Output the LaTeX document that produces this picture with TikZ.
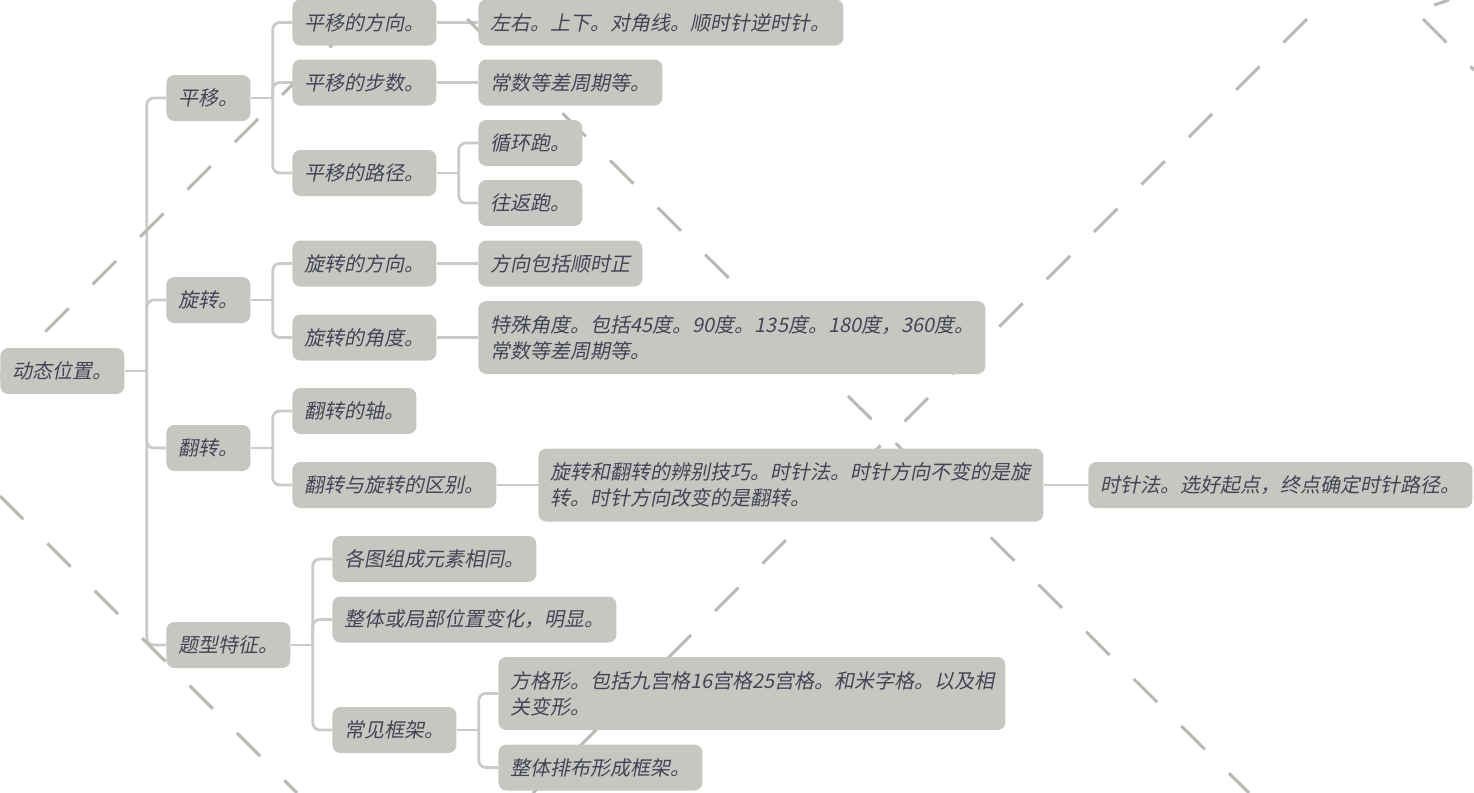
\documentclass[tikz,border=0pt]{standalone}
\usepackage{fontspec}
\usepackage{tikz}
\newfontfamily\cjk{Noto Sans CJK SC}[FakeSlant=0.2]
\definecolor{boxgray}{RGB}{197,199,192}
\definecolor{linkgray}{RGB}{202,202,200}
\definecolor{wmgray}{RGB}{183,186,178}
\definecolor{inkblue}{RGB}{67,69,86}
\pgfdeclarelayer{links}
\pgfdeclarelayer{marks}
\pgfsetlayers{links,marks,main}

\begin{document}
\begin{tikzpicture}[x=0.5pt, y=-0.5pt,
    topic/.style={fill=boxgray, rounded corners=4pt, anchor=west, inner xsep=6pt, inner ysep=2pt,
        minimum height=23pt, text=inkblue, font=\cjk\fontsize{10}{13}\selectfont},
    wide/.style={text width=#1, align=left},
    twolines/.style={wide=#1, minimum height=36.5pt},
    branch/.style={draw=linkgray, line width=1.4pt, rounded corners=3.5pt},
    wmline/.style={draw=wmgray, line width=1.5pt, dash pattern=on 16.5pt off 17pt}]
        \useasboundingbox (0,0) rectangle (1474,793);

        % Root and first level
        \node[topic] (root) at (0,371) {动态位置。};
        \node[topic] (py) at (166,98) {平移。};
        \node[topic] (xz) at (166,300) {旋转。};
        \node[topic] (fz) at (166,448) {翻转。};
        \node[topic] (tx) at (166,645) {题型特征。};

        % Translation branch
        \node[topic] (py1) at (292,22.5) {平移的方向。};
        \node[topic] (py2) at (292,82.5) {平移的步数。};
        \node[topic] (py3) at (292,173) {平移的路径。};
        \node[topic, wide=170.5pt] (py1a) at (478,22.5) {左右。上下。对角线。顺时针逆时针。};
        \node[topic] (py2a) at (478,82.5) {常数等差周期等。};
        \node[topic] (py3a) at (478,143) {循环跑。};
        \node[topic] (py3b) at (478,203) {往返跑。};

        % Rotation branch
        \node[topic] (xz1) at (292,263.5) {旋转的方向。};
        \node[topic] (xz2) at (292,337.5) {旋转的角度。};
        \node[topic] (xz1a) at (478,263.5) {方向包括顺时正};
        \node[topic, twolines=241.5pt] (xz2a) at (478,337.5) {特殊角度。包括45度。90度。135度。180度，360度。\\常数等差周期等。};

        % Flip branch
        \node[topic] (fz1) at (292,411) {翻转的轴。};
        \node[topic] (fz2) at (292,485) {翻转与旋转的区别。};
        \node[topic, twolines=240.5pt] (fz2a) at (538,485) {旋转和翻转的辨别技巧。时针法。时针方向不变的是旋\\转。时针方向改变的是翻转。};
        \node[topic] (fz2b) at (1088,485) {时针法。选好起点，终点确定时针路径。};

        % Question features branch
        \node[topic] (tx1) at (332,559) {各图组成元素相同。};
        \node[topic] (tx2) at (332,619.5) {整体或局部位置变化，明显。};
        \node[topic] (tx3) at (332,730) {常见框架。};
        \node[topic, twolines=241.5pt] (tx3a) at (498,693.5) {方格形。包括九宫格16宫格25宫格。和米字格。以及相\\关变形。};
        \node[topic] (tx3b) at (498,767.5) {整体排布形成框架。};

        % Connectors
        \begin{pgfonlayer}{links}
        \draw[branch] (root.east) -- ++(22,0);
        \draw[branch] ([xshift=11pt]root.east) |- (py.west);
        \draw[branch] ([xshift=11pt]root.east) |- (xz.west);
        \draw[branch] ([xshift=11pt]root.east) |- (fz.west);
        \draw[branch] ([xshift=11pt]root.east) |- (tx.west);

        \draw[branch] (py.east) -- ++(22,0);
        \draw[branch] ([xshift=11pt]py.east) |- (py1.west);
        \draw[branch] ([xshift=11pt]py.east) |- (py2.west);
        \draw[branch] ([xshift=11pt]py.east) |- (py3.west);
        \draw[branch] (py1.east) -- (py1a.west);
        \draw[branch] (py2.east) -- (py2a.west);
        \draw[branch] (py3.east) -- ++(22,0);
        \draw[branch] ([xshift=11pt]py3.east) |- (py3a.west);
        \draw[branch] ([xshift=11pt]py3.east) |- (py3b.west);

        \draw[branch] (xz.east) -- ++(22,0);
        \draw[branch] ([xshift=11pt]xz.east) |- (xz1.west);
        \draw[branch] ([xshift=11pt]xz.east) |- (xz2.west);
        \draw[branch] (xz1.east) -- (xz1a.west);
        \draw[branch] (xz2.east) -- (xz2a.west);

        \draw[branch] (fz.east) -- ++(22,0);
        \draw[branch] ([xshift=11pt]fz.east) |- (fz1.west);
        \draw[branch] ([xshift=11pt]fz.east) |- (fz2.west);
        \draw[branch] (fz2.east) -- (fz2a.west);
        \draw[branch] (fz2a.east) -- (fz2b.west);

        \draw[branch] (tx.east) -- ++(22,0);
        \draw[branch] ([xshift=11pt]tx.east) |- (tx1.west);
        \draw[branch] ([xshift=11pt]tx.east) |- (tx2.west);
        \draw[branch] ([xshift=11pt]tx.east) |- (tx3.west);
        \draw[branch] (tx3.east) -- ++(22,0);
        \draw[branch] ([xshift=11pt]tx3.east) |- (tx3a.west);
        \draw[branch] ([xshift=11pt]tx3.east) |- (tx3b.west);
        \end{pgfonlayer}

        % Dashed background lines
        \begin{pgfonlayer}{marks}
        \draw[wmline, dash phase=16.5pt] (377,0) -- (0,377);
        \draw[wmline] (0,496) -- (297,793);
        \draw[wmline, dash phase=20pt] (448,0) -- (1249,793);
        \draw[wmline, dash phase=20pt] (1326,0) -- (533,793);
        \draw[wmline, dash phase=20pt] (1404,0) -- (1474,70);
        \draw[wmline, solid] (1434,5) -- (1449,0);
        \end{pgfonlayer}
\end{tikzpicture}
\end{document}
